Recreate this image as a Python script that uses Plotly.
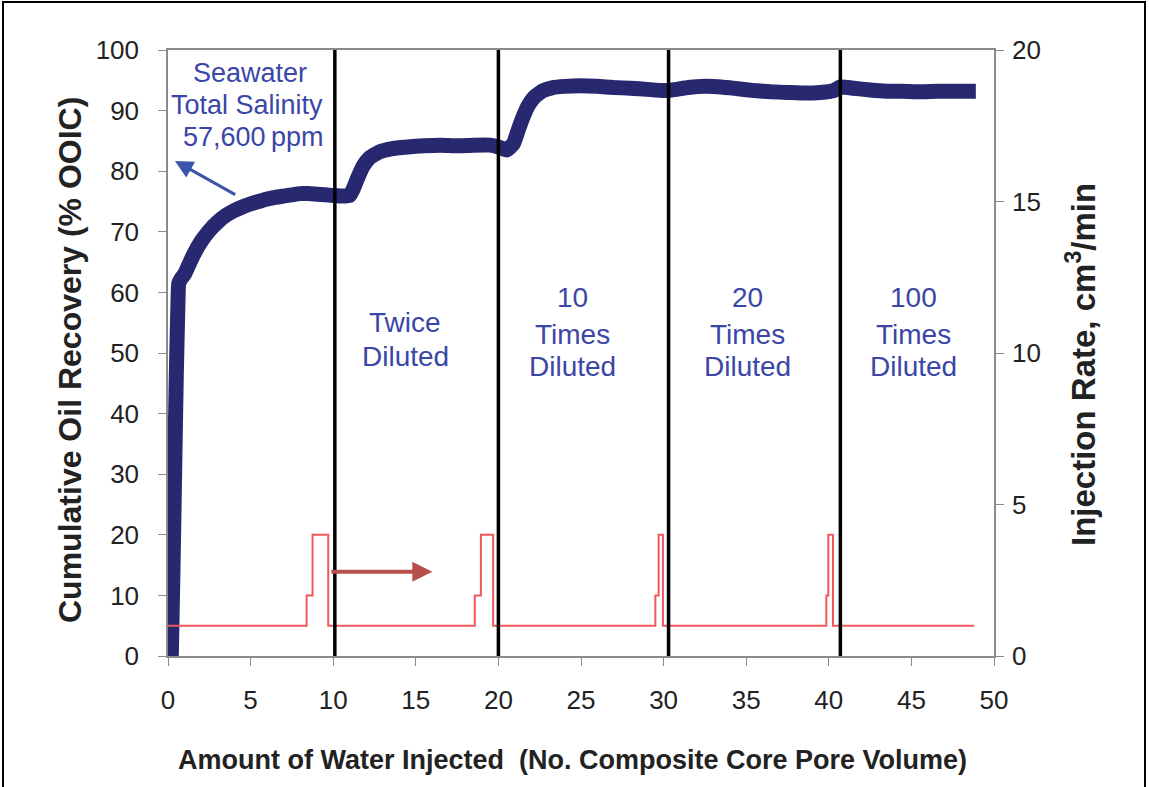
import plotly.graph_objects as go

# Cumulative oil recovery (% OOIC) vs pore volumes injected
pv_recovery = [0.2, 0.3, 0.4, 0.5, 0.6, 0.65, 0.8, 1.0, 1.3, 1.6, 2.0, 2.5, 3.0, 3.5,
               4.0, 4.5, 5.0, 5.5, 6.0, 6.5, 7.0, 7.5, 8.0, 8.5, 9.0, 9.5, 10.0,
               10.5, 11.0, 11.2, 11.5, 11.8, 12.2, 12.8, 13.5, 14.5, 15.5, 16.5,
               17.5, 18.5, 19.5, 20.0, 20.5, 20.9, 21.2, 21.5, 21.8, 22.2, 22.7,
               23.3, 24.0, 25.0, 26.0, 27.0, 28.0, 29.0, 30.0, 30.5, 31.5, 32.5,
               33.5, 34.5, 35.5, 36.5, 37.5, 38.5, 39.5, 40.3, 40.7, 41.5, 42.5,
               43.5, 44.5, 45.5, 46.5, 47.5, 48.9]
recovery = [0, 14, 30, 46, 58, 61.5, 62.3, 63, 64.8, 66.5, 68.4, 70.2, 71.6, 72.7,
            73.5, 74.1, 74.6, 75.0, 75.4, 75.7, 75.9, 76.1, 76.3, 76.3, 76.2, 76.1, 76.0,
            75.9, 76.0, 77.0, 79.0, 80.8, 82.2, 83.2, 83.7, 84.0, 84.2, 84.3,
            84.2, 84.3, 84.3, 84.0, 83.5, 84.5, 86.8, 89.0, 90.8, 92.3, 93.3,
            93.8, 94.0, 94.1, 94.0, 93.8, 93.7, 93.5, 93.3, 93.4, 93.8, 94.0,
            93.9, 93.6, 93.3, 93.1, 93.0, 92.9, 93.0, 93.3, 93.9, 93.7, 93.4,
            93.2, 93.2, 93.1, 93.2, 93.2, 93.2]

# Injection rate schedule (cm3/min), stepwise
pv_rate = [0, 8.39, 8.75, 9.7, 18.57, 18.94, 19.68, 29.5, 29.7, 29.96,
           39.85, 39.97, 40.25, 48.8]
rate = [1, 2, 4, 1, 2, 4, 1, 2, 4, 1, 2, 4, 1, 1]

# Brine switch points (pore volumes)
switch_pv = [10.1, 20.0, 30.3, 40.7]

# Stage labels: (x, lines)
stage_labels = [
    (14.35, ["Twice", "Diluted"]),
    (24.5, ["10", "Times", "Diluted"]),
    (35.05, ["20", "Times", "Diluted"]),
    (45.1, ["100", "Times", "Diluted"]),
]
seawater_lines = ["Seawater", "Total Salinity", "57,600\u2009ppm"]

x_ticks = [0, 5, 10, 15, 20, 25, 30, 35, 40, 45, 50]
y_ticks = [0, 10, 20, 30, 40, 50, 60, 70, 80, 90, 100]
y2_ticks = [0, 5, 10, 15, 20]

FONT = "Liberation Sans, Arial, sans-serif"
BLUE_TXT = "#3b46a6"
NAVY = "#27286f"
AXIS_GREY = "#8a8a8a"
TXT = "#222222"

fig = go.Figure()

fig.add_trace(go.Scatter(
    x=pv_recovery, y=recovery, mode="lines", line_shape="spline",
    line=dict(color=NAVY, width=15, smoothing=0.4), yaxis="y", showlegend=False,
))
fig.add_trace(go.Scatter(
    x=pv_rate, y=rate, mode="lines", line_shape="hv",
    line=dict(color="#f0575a", width=2), yaxis="y2", showlegend=False,
))

shapes = []
for xv in switch_pv:
    shapes.append(dict(type="line", xref="x", yref="y", x0=xv, x1=xv, y0=0, y1=100,
                       line=dict(color="black", width=3.5), layer="above"))
# outer frame
shapes.append(dict(type="rect", xref="paper", yref="paper",
                   x0=(3 - 168) / 826, x1=(1145 - 168) / 826,
                   y0=(656 - 800) / 606, y1=(656 - 2) / 606,
                   line=dict(color="black", width=2)))

annotations = []
stage_rows = {2: [55.1, 49.5], 3: [59.1, 53.1, 47.8]}
for xv, lines in stage_labels:
    for txt, yv in zip(lines, stage_rows[len(lines)]):
        annotations.append(dict(x=xv, y=yv, xref="x", yref="y", text=txt,
                                xanchor="center", yanchor="middle", showarrow=False,
                                font=dict(family=FONT, size=28, color=BLUE_TXT)))
for txt, xv, yv in zip(seawater_lines, [4.96, 4.8, 5.15], [96.2, 90.9, 85.6]):
    annotations.append(dict(x=xv, y=yv, xref="x", yref="y", text=txt,
                            xanchor="center", yanchor="middle", showarrow=False,
                            font=dict(family=FONT, size=27, color=BLUE_TXT)))

# arrows
annotations.append(dict(x=0.42, y=81.7, ax=4.16, ay=76.0, xref="x", yref="y",
                        axref="x", ayref="y", text="", showarrow=True,
                        arrowhead=2, arrowsize=1.2, arrowwidth=3, arrowcolor="#3c55aa"))
annotations.append(dict(x=16.0, y=13.9, ax=9.8, ay=13.9, xref="x", yref="y",
                        axref="x", ayref="y", text="", showarrow=True,
                        arrowhead=2, arrowsize=1.0, arrowwidth=4, arrowcolor="#b5504c"))

# axis titles
annotations.append(dict(x=(70 - 168) / 826, y=(656 - 360) / 606, xref="paper", yref="paper",
                        xanchor="center", yanchor="middle",
                        text="<b>Cumulative Oil Recovery (% OOIC)</b>", textangle=-90,
                        showarrow=False, font=dict(family=FONT, size=32, color=TXT)))
annotations.append(dict(x=(1081 - 168) / 826, y=(656 - 365) / 606, xref="paper", yref="paper",
                        xanchor="center", yanchor="middle",
                        text="<b>Injection Rate, cm<sup>3</sup>/min</b>", textangle=-90,
                        showarrow=False, font=dict(family=FONT, size=33, color=TXT)))
annotations.append(dict(x=(572 - 168) / 826, y=(656 - 760) / 606, xref="paper", yref="paper",
                        xanchor="center", yanchor="middle",
                        text="<b>Amount of Water Injected  (No. Composite Core Pore Volume)</b>",
                        showarrow=False, font=dict(family=FONT, size=27, color=TXT)))

fig.update_layout(
    width=1149, height=787, autosize=False,
    margin=dict(l=168, r=155, t=50, b=131, pad=0),
    paper_bgcolor="white", plot_bgcolor="white",
    font=dict(family=FONT, size=26, color=TXT),
    showlegend=False,
    shapes=shapes, annotations=annotations,
    xaxis=dict(range=[0, 50], tickvals=x_ticks, showgrid=False, zeroline=False,
               showline=True, linecolor=AXIS_GREY, linewidth=1.5, mirror=True,
               ticks="outside", ticklen=8, tickcolor=AXIS_GREY, ticklabelstandoff=12,
               tickfont=dict(size=26, color=TXT)),
    yaxis=dict(range=[0, 100], tickvals=y_ticks, showgrid=False, zeroline=False,
               showline=True, linecolor=AXIS_GREY, linewidth=1.5,
               ticks="outside", ticklen=8, tickcolor=AXIS_GREY, ticklabelstandoff=14,
               tickfont=dict(size=26, color=TXT)),
    yaxis2=dict(range=[0, 20], tickvals=y2_ticks, overlaying="y", side="right",
                showgrid=False, zeroline=False, showline=True, linecolor=AXIS_GREY,
                linewidth=1.5, ticks="outside", ticklen=8, tickcolor=AXIS_GREY,
                ticklabelstandoff=3, tickfont=dict(size=26, color=TXT)),
)

fig.write_html("out.html")
